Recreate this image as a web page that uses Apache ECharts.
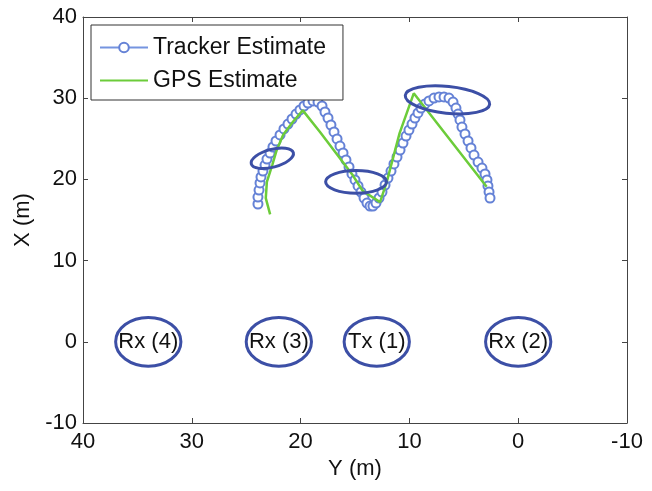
<!DOCTYPE html>
<html>
<head>
<meta charset="utf-8">
<script src="https://cdn.jsdelivr.net/npm/echarts@6/dist/echarts.min.js"></script>
<style>html,body{margin:0;padding:0;background:#fff}#c{width:652px;height:491px}</style>
</head>
<body>
<div id="c"></div>
<script>
// Tracker estimate (horizontal axis = Y (m), vertical axis = X (m))
var trackerY = [23.92,23.92,23.82,23.73,23.64,23.46,23.27,23.09,22.81,22.54,22.26,21.89,21.53,21.16,20.79,20.42,20.06,19.69,19.32,18.86,18.40,18.03,17.76,17.48,17.21,16.93,16.65,16.38,16.10,15.83,15.55,15.28,15.00,14.72,14.45,14.17,13.90,13.62,13.35,13.07,12.79,12.52,12.24,11.97,11.69,11.42,11.14,10.86,10.59,10.31,10.04,9.76,9.49,9.21,8.93,8.57,8.20,7.74,7.28,6.82,6.36,5.99,5.72,5.53,5.35,5.17,4.89,4.61,4.34,4.06,3.69,3.33,3.05,2.87,2.78,2.68,2.59];
var trackerX = [16.97,17.83,18.69,19.56,20.30,21.03,21.77,22.51,23.25,23.99,24.73,25.47,26.21,26.82,27.44,28.05,28.55,29.04,29.41,29.66,29.53,29.04,28.30,27.56,26.70,25.84,24.98,24.11,23.25,22.39,21.53,20.67,19.93,19.19,18.45,17.71,17.09,16.72,16.72,17.09,17.71,18.45,19.31,20.17,21.03,21.90,22.76,23.62,24.48,25.34,26.08,26.82,27.56,28.18,28.79,29.29,29.66,30.02,30.15,30.15,30.02,29.53,28.79,28.05,27.32,26.45,25.59,24.73,23.87,23.00,22.14,21.40,20.67,19.93,19.19,18.45,17.71];

// GPS estimate
var gpsY = [22.8,23.2,23.1,22.6,22.2,21.6,20.7,19.8,18.2,15.2,14.3,12.7,12.1,10.9,9.6,2.9];
var gpsX = [15.7,17.7,19.7,21.8,23.6,25.5,27.1,28.5,25.8,20.5,18.6,17.2,19.6,25.7,30.6,19.1];

// Ellipses (centres and radii in metres, tilt in degrees)
var ellY = [34, 22, 13, 0, 22.6, 14.9, 6.5];
var ellX = [0, 0, 0, 0, 22.6, 19.7, 29.8];
var ellRY = [3, 3, 3, 3, 2.0, 2.8, 3.9];
var ellRX = [3, 3, 3, 3, 1.1, 1.4, 1.65];
var ellTilt = [0, 0, 0, 0, 15, 0, -6];
var ellLabels = ['Rx (4)', 'Rx (3)', 'Tx (1)', 'Rx (2)', '', '', ''];

var xTicks = [40, 30, 20, 10, 0, -10];
var yTicks = [-10, 0, 10, 20, 30, 40];
var seriesNames = ['Tracker Estimate', 'GPS Estimate'];

var FONT = '"Liberation Sans", Arial, sans-serif';

function zip(a, b) { var r = []; for (var i = 0; i < Math.min(a.length, b.length); i++) r.push([a[i], b[i]]); return r; }
var ellData = [];
for (var i = 0; i < ellY.length; i++) ellData.push([ellY[i], ellX[i], ellRY[i], ellRX[i], ellTilt[i], i]);

var chart = echarts.init(document.getElementById('c'), null, {renderer: 'canvas'});
var axisCommon = {
  type: 'value', min: -10, max: 40, interval: 10,
  splitLine: {show: false},
  axisLine: {show: true, onZero: false, lineStyle: {color: '#444', width: 1}},
  axisTick: {show: true, inside: true, length: 5, lineStyle: {color: '#444'}}
};
chart.setOption({
  backgroundColor: '#fff',
  animation: false,
  grid: {left: 83, right: 25, top: 17, bottom: 68, show: false},
  xAxis: [
    Object.assign({}, axisCommon, {
      position: 'bottom', inverse: true,
      name: 'Y (m)', nameLocation: 'middle', nameGap: 34,
      nameTextStyle: {fontFamily: FONT, fontSize: 22, color: '#111'},
      axisLabel: {fontFamily: FONT, fontSize: 22, color: '#111', margin: 8,
        formatter: function (v) { return xTicks.indexOf(v) >= 0 ? String(v) : ''; }}
    }),
    Object.assign({}, axisCommon, {position: 'top', inverse: true, axisLabel: {show: false}})
  ],
  yAxis: [
    Object.assign({}, axisCommon, {
      position: 'left',
      name: 'X (m)', nameLocation: 'middle', nameGap: 44,
      nameTextStyle: {fontFamily: FONT, fontSize: 22, color: '#111'},
      axisLabel: {fontFamily: FONT, fontSize: 22, color: '#111', margin: 6,
        formatter: function (v) { return yTicks.indexOf(v) >= 0 ? String(v) : ''; }}
    }),
    Object.assign({}, axisCommon, {position: 'right', axisLabel: {show: false}})
  ],
  legend: {
    data: [{name: seriesNames[0]}, {name: seriesNames[1], itemStyle: {opacity: 0}}],
    orient: 'vertical', left: 91, top: 25,
    backgroundColor: '#fff', borderColor: '#333', borderWidth: 1,
    padding: [11, 17, 8, 8], itemGap: 10, itemWidth: 48, itemHeight: 12,
    textStyle: {fontFamily: FONT, fontSize: 23, color: '#111'}
  },
  series: [
    {
      name: seriesNames[0], type: 'line', data: zip(trackerY, trackerX),
      symbol: 'emptyCircle', symbolSize: 9, showAllSymbol: true,
      lineStyle: {color: '#7594e0', width: 1},
      itemStyle: {color: '#6582d6', borderWidth: 1.2},
      z: 3
    },
    {
      name: seriesNames[1], type: 'line', data: zip(gpsY, gpsX),
      symbol: 'none', lineStyle: {color: '#6ccc3a', width: 2.5},
      itemStyle: {color: '#6ccc3a'}, z: 4
    },
    {
      type: 'custom', data: ellData, z: 5, silent: true,
      encode: {x: 0, y: 1},
      renderItem: function (params, api) {
        var c = api.coord([api.value(0), api.value(1)]);
        var s = api.size([api.value(2), api.value(3)]);
        var idx = api.value(5);
        var children = [{
          type: 'ellipse', x: c[0], y: c[1],
          rotation: api.value(4) * Math.PI / 180,
          shape: {cx: 0, cy: 0, rx: Math.abs(s[0]), ry: Math.abs(s[1])},
          style: {fill: 'none', stroke: '#3c4fa6', lineWidth: 3}
        }];
        if (ellLabels[idx]) {
          children.push({
            type: 'text', x: c[0], y: c[1],
            style: {text: ellLabels[idx], fill: '#111', font: '22px ' + FONT, align: 'center', verticalAlign: 'middle'}
          });
        }
        return {type: 'group', children: children};
      }
    }
  ]
});
</script>
</body>
</html>
